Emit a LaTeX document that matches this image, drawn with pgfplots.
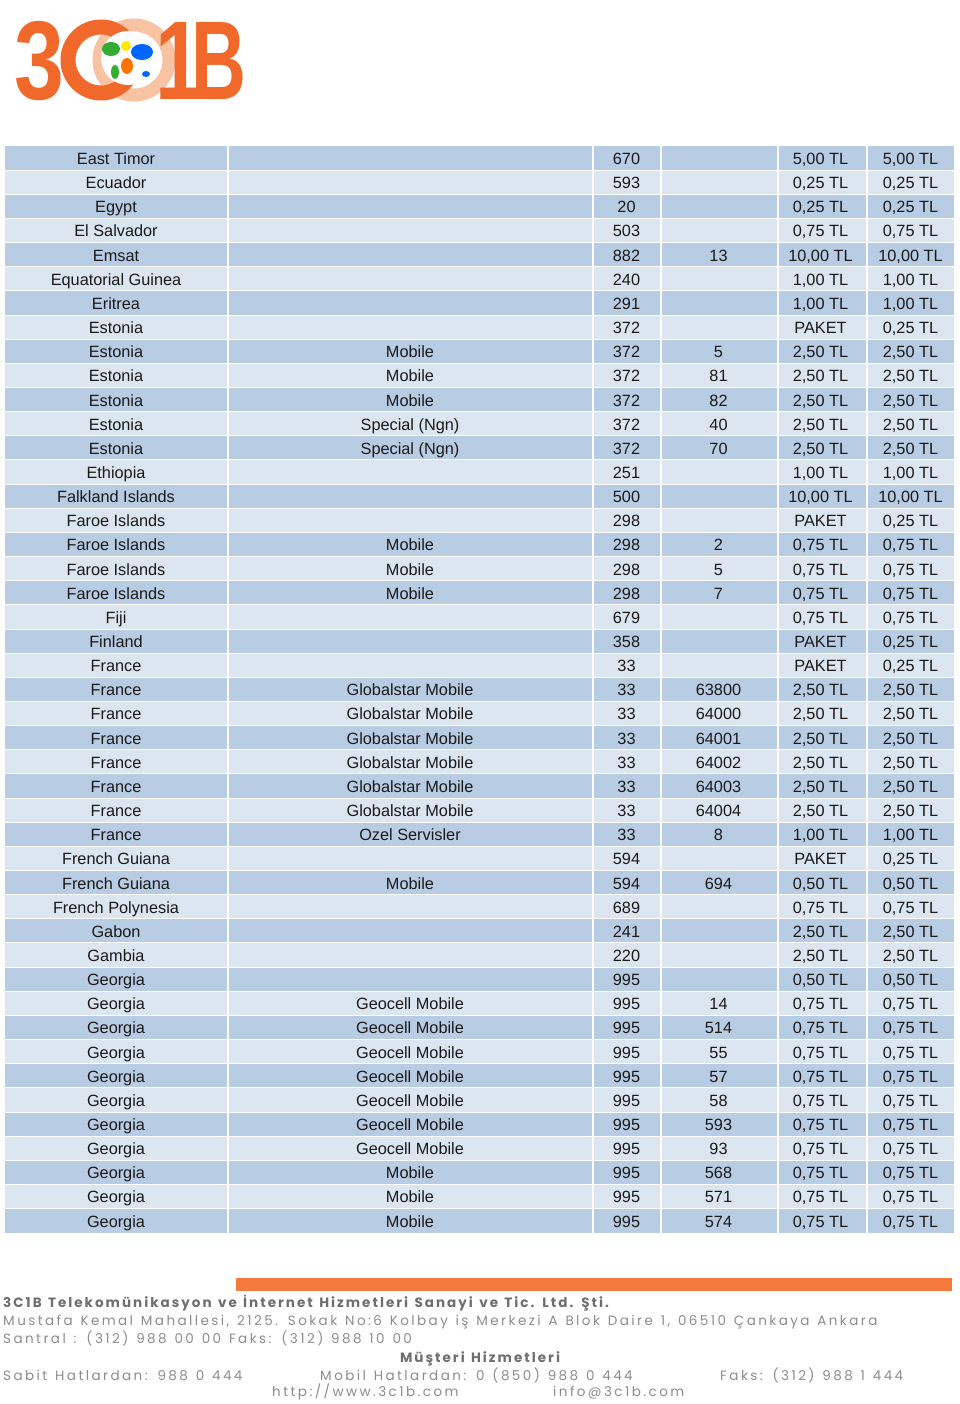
\documentclass[border=0pt]{standalone}
\usepackage{fontspec}
\setmainfont{Liberation Sans}
\newfontfamily\footfont[LetterSpace=18,WordSpace=1.3]{Poppins}
\newfontfamily\footfontb[LetterSpace=15,WordSpace=1.3]{Poppins}
\usepackage{pgfplots}
\pgfplotsset{compat=1.18}
\usepackage{pgfplotstable}
\definecolor{darkrow}{HTML}{B8CCE4}
\definecolor{lightrow}{HTML}{DCE6F1}
\definecolor{logoorange}{HTML}{F0692A}
\definecolor{logopeach}{HTML}{F8C3A3}
\definecolor{barorange}{HTML}{F47A3D}
\definecolor{foottext}{HTML}{8C8C8C}
\definecolor{footbold}{HTML}{6E6E6E}
\newcommand\tablefont{\fontsize{16.3}{19}\selectfont}
\newcommand\ft{\footfont\fontsize{13.5}{15}\selectfont}
\newcommand\ftb{\footfontb\fontsize{13.5}{15}\selectfont\bfseries}

\pgfplotstableread[col sep=semicolon]{
country;type;code;sub;pa;pb
East Timor;;670;;5,00 TL;5,00 TL
Ecuador;;593;;0,25 TL;0,25 TL
Egypt;;20;;0,25 TL;0,25 TL
El Salvador;;503;;0,75 TL;0,75 TL
Emsat;;882;13;10,00 TL;10,00 TL
Equatorial Guinea;;240;;1,00 TL;1,00 TL
Eritrea;;291;;1,00 TL;1,00 TL
Estonia;;372;;PAKET;0,25 TL
Estonia;Mobile;372;5;2,50 TL;2,50 TL
Estonia;Mobile;372;81;2,50 TL;2,50 TL
Estonia;Mobile;372;82;2,50 TL;2,50 TL
Estonia;Special (Ngn);372;40;2,50 TL;2,50 TL
Estonia;Special (Ngn);372;70;2,50 TL;2,50 TL
Ethiopia;;251;;1,00 TL;1,00 TL
Falkland Islands;;500;;10,00 TL;10,00 TL
Faroe Islands;;298;;PAKET;0,25 TL
Faroe Islands;Mobile;298;2;0,75 TL;0,75 TL
Faroe Islands;Mobile;298;5;0,75 TL;0,75 TL
Faroe Islands;Mobile;298;7;0,75 TL;0,75 TL
Fiji;;679;;0,75 TL;0,75 TL
Finland;;358;;PAKET;0,25 TL
France;;33;;PAKET;0,25 TL
France;Globalstar Mobile;33;63800;2,50 TL;2,50 TL
France;Globalstar Mobile;33;64000;2,50 TL;2,50 TL
France;Globalstar Mobile;33;64001;2,50 TL;2,50 TL
France;Globalstar Mobile;33;64002;2,50 TL;2,50 TL
France;Globalstar Mobile;33;64003;2,50 TL;2,50 TL
France;Globalstar Mobile;33;64004;2,50 TL;2,50 TL
France;Ozel Servisler;33;8;1,00 TL;1,00 TL
French Guiana;;594;;PAKET;0,25 TL
French Guiana;Mobile;594;694;0,50 TL;0,50 TL
French Polynesia;;689;;0,75 TL;0,75 TL
Gabon;;241;;2,50 TL;2,50 TL
Gambia;;220;;2,50 TL;2,50 TL
Georgia;;995;;0,50 TL;0,50 TL
Georgia;Geocell Mobile;995;14;0,75 TL;0,75 TL
Georgia;Geocell Mobile;995;514;0,75 TL;0,75 TL
Georgia;Geocell Mobile;995;55;0,75 TL;0,75 TL
Georgia;Geocell Mobile;995;57;0,75 TL;0,75 TL
Georgia;Geocell Mobile;995;58;0,75 TL;0,75 TL
Georgia;Geocell Mobile;995;593;0,75 TL;0,75 TL
Georgia;Geocell Mobile;995;93;0,75 TL;0,75 TL
Georgia;Mobile;995;568;0,75 TL;0,75 TL
Georgia;Mobile;995;571;0,75 TL;0,75 TL
Georgia;Mobile;995;574;0,75 TL;0,75 TL
}\ratetable

\pgfplotsset{
  celltext/.style={draw=none, mark=none, nodes near coords,
    point meta=explicit symbolic,
    every node near coord/.append style={anchor=base, inner sep=0pt, font=\tablefont, text=black!90}},
}

\begin{document}
\begin{tikzpicture}
\begin{axis}[width=960pt, height=1404pt, scale only axis,
  xmin=0, xmax=960, ymin=0, ymax=1404, y dir=reverse,
  hide axis, clip=false]
\path (axis cs:0,0) rectangle (axis cs:960,1404);
% row backgrounds
\pgfplotsinvokeforeach{0,2,...,44}{\fill[darkrow] (axis cs:5,{146+24.15*#1}) rectangle (axis cs:954,{146+24.15*(#1+1)});}
\pgfplotsinvokeforeach{1,3,...,43}{\fill[lightrow] (axis cs:5,{146+24.15*#1}) rectangle (axis cs:954,{146+24.15*(#1+1)});}
\pgfplotsinvokeforeach{227.5,592.5,661,777.5,866.5}{\draw[white,line width=2pt] (axis cs:#1,145) -- (axis cs:#1,1234);}
\pgfplotsinvokeforeach{1,...,44}{\draw[white,line width=1pt] (axis cs:5,{146+24.15*#1}) -- (axis cs:954,{146+24.15*#1});}
% cell text
\addplot[celltext] table[x expr=116, y expr={164.5+24.15*\coordindex}, meta=country] {\ratetable};
\addplot[celltext] table[x expr=410, y expr={164.5+24.15*\coordindex}, meta=type] {\ratetable};
\addplot[celltext] table[x expr=626.5, y expr={164.5+24.15*\coordindex}, meta=code] {\ratetable};
\addplot[celltext] table[x expr=718.5, y expr={164.5+24.15*\coordindex}, meta=sub] {\ratetable};
\addplot[celltext] table[x expr=820.5, y expr={164.5+24.15*\coordindex}, meta=pa] {\ratetable};
\addplot[celltext] table[x expr=910.5, y expr={164.5+24.15*\coordindex}, meta=pb] {\ratetable};
% logo
\draw[logopeach, line width=13pt] (axis cs:134,60) circle[radius=35pt];
\draw[logoorange, line width=15pt] (axis cs:101,60) circle[radius=33pt];
\fill[white] (axis cs:128,58) circle[radius=27pt];
\fill[green!60!black!80] (axis cs:111,49) ellipse[x radius=9pt, y radius=7pt];
\fill[yellow!90!orange] (axis cs:126,46) ellipse[x radius=5pt, y radius=5pt];
\fill[blue!60!cyan] (axis cs:142,52) ellipse[x radius=11pt, y radius=8pt];
\fill[orange!90!red] (axis cs:127,66) ellipse[x radius=6pt, y radius=8pt];
\fill[green!60!black!80] (axis cs:115,72) ellipse[x radius=4pt, y radius=7pt];
\fill[blue!60!cyan] (axis cs:146,74) ellipse[x radius=4pt, y radius=3pt];
\node[anchor=base, inner sep=0pt, text=logoorange] at (axis cs:39,100) {\scalebox{0.8}[1]{\fontsize{112}{112}\selectfont\bfseries 3}};
\node[anchor=base, inner sep=0pt, text=logoorange] at (axis cs:179,100) {\scalebox{0.75}[1]{\fontsize{112}{112}\selectfont\bfseries 1}};
\node[anchor=base, inner sep=0pt, text=logoorange] at (axis cs:219,100) {\scalebox{0.68}[1]{\fontsize{112}{112}\selectfont\bfseries B}};
% footer
\fill[barorange] (axis cs:236,1278) rectangle (axis cs:952,1291);
\node[anchor=base west, inner sep=0pt, text=footbold, font=\ftb] at (axis cs:3,1307) {3C1B Telekomünikasyon ve İnternet Hizmetleri Sanayi ve Tic. Ltd. Şti.};
\node[anchor=base west, inner sep=0pt, text=foottext, font=\ft] at (axis cs:3,1325) {Mustafa Kemal Mahallesi, 2125. Sokak No:6 Kolbay iş Merkezi A Blok Daire 1, 06510 Çankaya Ankara};
\node[anchor=base west, inner sep=0pt, text=foottext, font=\ft] at (axis cs:3,1343) {Santral : (312) 988 00 00 Faks: (312) 988 10 00};
\node[anchor=base, inner sep=0pt, text=footbold, font=\ftb] at (axis cs:480,1362) {Müşteri Hizmetleri};
\node[anchor=base west, inner sep=0pt, text=foottext, font=\ft] at (axis cs:3,1380) {Sabit Hatlardan: 988 0 444};
\node[anchor=base west, inner sep=0pt, text=foottext, font=\ft] at (axis cs:320,1380) {Mobil Hatlardan: 0 (850) 988 0 444};
\node[anchor=base west, inner sep=0pt, text=foottext, font=\ft] at (axis cs:720,1380) {Faks: (312) 988 1 444};
\node[anchor=base west, inner sep=0pt, text=foottext, font=\ft] at (axis cs:272,1396) {http://www.3c1b.com};
\node[anchor=base west, inner sep=0pt, text=foottext, font=\ft] at (axis cs:553,1396) {info@3c1b.com};
\end{axis}
\end{tikzpicture}
\end{document}
